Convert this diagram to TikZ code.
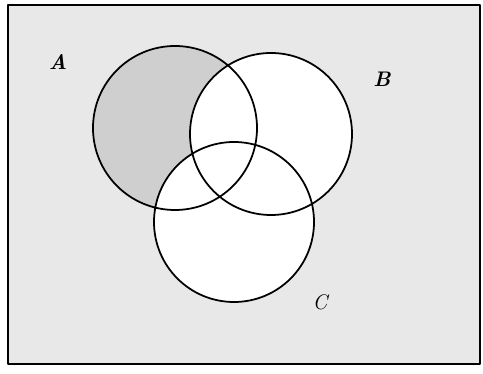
\documentclass[tikz,border=0pt]{standalone}
\begin{document}
\begin{tikzpicture}[x=0.02cm, y=-0.02cm, line join=round, line cap=round]
			\useasboundingbox (0,0) rectangle (483,374);
			\path
			(175,128) coordinate (A)
			(271,134) coordinate (B)
			(234,222) coordinate (C)
			(8,5) coordinate (P)
			(480,364) coordinate (Q)
			;
			\fill[gray!18] (P) rectangle (Q);
			\fill[gray!38] (A) circle (82);
			\fill[white] (B) circle (81) (C) circle (80);
			\draw[line width=1pt] (P) rectangle (Q);
			\draw[line width=1pt] (A) circle (82) (B) circle (81) (C) circle (80);
			\node[font=\large\bfseries\itshape] (la) at (58,62) {A};
			\node[font=\large\bfseries\itshape] (lb) at (382,79) {B};
			\node[font=\large\itshape] (lc) at (320,302) {C};
		\end{tikzpicture}
\end{document}
